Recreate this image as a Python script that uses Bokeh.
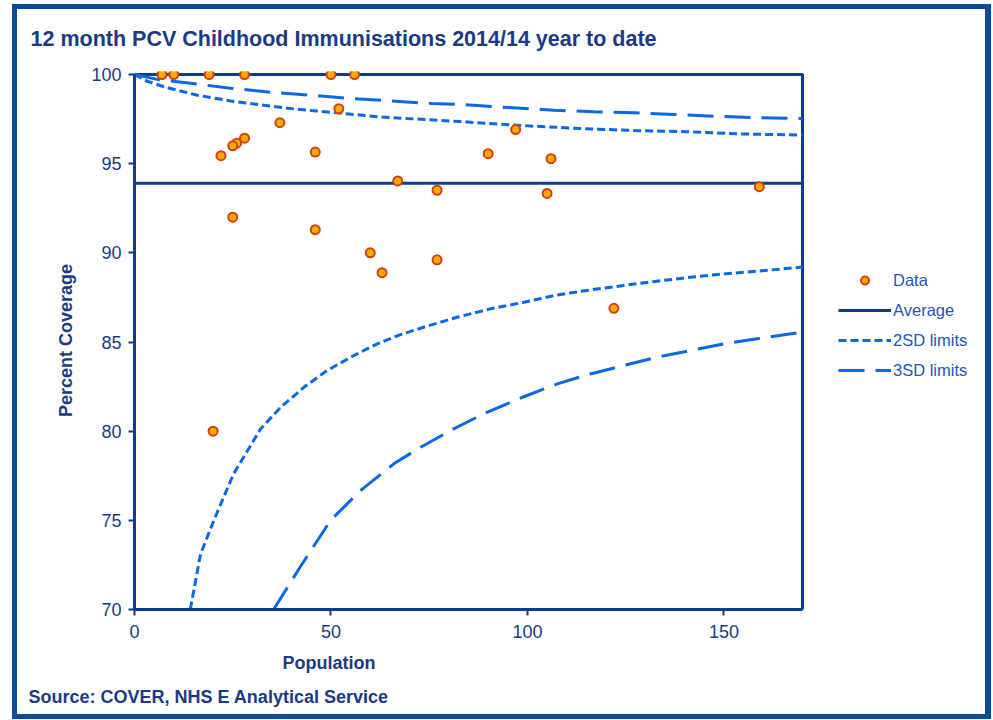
from bokeh.plotting import figure
from bokeh.models import Range1d, Legend, LegendItem, FixedTicker, Title
from bokeh.embed import file_html
from bokeh.resources import INLINE

# ---------------- data ----------------
title_text = "12 month PCV Childhood Immunisations 2014/14 year to date"
source_text = "Source: COVER, NHS E Analytical Service"
x_label = "Population"
y_label = "Percent Coverage"

x_ticks = [0, 50, 100, 150]
y_ticks = [70, 75, 80, 85, 90, 95, 100]
x_limits = [0, 170]
y_limits = [70, 100]

population = [7, 10, 19, 28, 50, 56, 52, 37, 28, 26, 25, 22, 46, 90, 97, 106,
              67, 77, 105, 25, 46, 60, 63, 77, 159, 122, 20]
coverage = [100, 100, 100, 100, 100, 100, 98.08, 97.3, 96.43, 96.15, 96.0, 95.45,
            95.65, 95.56, 96.91, 95.28, 94.03, 93.51, 93.33, 92.0, 91.3, 90.0,
            88.89, 89.61, 93.71, 86.89, 80.0]

average = 93.9

upper2_x = [0, 3.2, 7.5, 16.0, 24.4, 32.9, 41.4, 51.6, 61.8, 71.9, 83.8, 99.9,
            113.5, 127.1, 140.6, 154.2, 170]
upper2_y = [100, 99.63, 99.31, 98.84, 98.52, 98.28, 98.05, 97.85, 97.63, 97.5,
            97.35, 97.12, 96.97, 96.86, 96.79, 96.67, 96.6]

upper3_x = [0, 6.4, 14.3, 24.4, 34.6, 44.8, 55.0, 65.1, 75.7, 83.0, 96.5, 106.7,
            116.9, 127.1, 137.2, 147.4, 157.6, 170]
upper3_y = [100, 99.7, 99.51, 99.23, 99.01, 98.84, 98.65, 98.52, 98.37, 98.32,
            98.13, 98.0, 97.91, 97.85, 97.76, 97.66, 97.59, 97.53]

lower2_x = [14.2, 16.8, 20.2, 25.2, 32.1, 37.2, 43.1, 49.0, 55.8, 61.8, 67.0, 73.6,
            82.1, 90.6, 99.1, 107.6, 116.0, 124.5, 133.0, 141.5, 150.0, 158.4, 170]
lower2_y = [70.0, 73.1, 75.0, 77.6, 80.13, 81.34, 82.46, 83.4, 84.24, 84.9, 85.36,
            85.83, 86.39, 86.86, 87.23, 87.64, 87.92, 88.17, 88.41, 88.63, 88.82,
            88.97, 89.2]

lower3_x = [35.4, 42.2, 49.9, 57.5, 66.0, 72.8, 81.2, 89.7, 99.9, 107.6, 116.0,
            124.5, 133.0, 141.5, 150.0, 158.4, 170]
lower3_y = [70.0, 72.4, 75.0, 76.67, 78.17, 79.1, 80.13, 81.06, 82.0, 82.65, 83.21,
            83.68, 84.15, 84.52, 84.9, 85.18, 85.55]

# ---------------- style ----------------
NAVY = "#0c3c8c"
TEXT_NAVY = "#1a3b84"
LEGEND_BLUE = "#1f56b4"
DASH_BLUE = "#0a68e6"
BORDER_BLUE = "#0d4a9e"
FONT = "Liberation Sans"

W, H = 993, 720
FL, FT, FW, FH = 134, 74, 668, 535   # plot box left/top/width/height (px)
TOP_PAD = 3                          # px of frame above the 100 line

# the frame runs to the right edge so that the legend (drawn inside it) is not clipped
px_per_x = FW / (x_limits[1] - x_limits[0])
px_per_y = FH / (y_limits[1] - y_limits[0])
x_view = (x_limits[0], x_limits[0] + (W - FL) / px_per_x)
y_view = (y_limits[0], y_limits[1] + TOP_PAD / px_per_y)

p = figure(width=W, height=H,
           x_range=Range1d(*x_view), y_range=Range1d(*y_view),
           output_backend="svg", toolbar_location=None,
           min_border_left=FL, min_border_right=0,
           min_border_top=FT - TOP_PAD, min_border_bottom=H - FT - FH)

p.background_fill_alpha = 0
p.border_fill_alpha = 0
p.outline_line_color = None
p.xgrid.visible = False
p.ygrid.visible = False

# outer chart border drawn behind the transparent canvas
p.styles = {
    "background": "#ffffff",
    "box-shadow": (
        "inset 12px 0 0 0 #ffffff, inset -2px 0 0 0 #ffffff, "
        "inset 0 4px 0 0 #ffffff, inset 0 -1px 0 0 #ffffff, "
        f"inset 17px 0 0 0 {BORDER_BLUE}, inset -8px 0 0 0 {BORDER_BLUE}, "
        f"inset 0 9px 0 0 {BORDER_BLUE}, inset 0 -6px 0 0 {BORDER_BLUE}"
    ),
}

for ax, ticks, bounds in ((p.xaxis, x_ticks, x_limits), (p.yaxis, y_ticks, y_limits)):
    ax.ticker = FixedTicker(ticks=ticks)
    ax.bounds = tuple(bounds)
    ax.axis_line_color = NAVY
    ax.axis_line_width = 3
    ax.major_tick_line_color = NAVY
    ax.major_tick_line_width = 2
    ax.major_tick_out = 6
    ax.major_tick_in = 0
    ax.minor_tick_line_color = None
    ax.major_label_text_font = FONT
    ax.major_label_text_font_size = "18px"
    ax.major_label_text_color = TEXT_NAVY
p.yaxis.major_label_standoff = 7
p.xaxis.major_label_standoff = 9

p.yaxis.axis_label = y_label
p.yaxis.axis_label_text_font = FONT
p.yaxis.axis_label_text_font_size = "18px"
p.yaxis.axis_label_text_font_style = "bold"
p.yaxis.axis_label_text_color = TEXT_NAVY
p.yaxis.axis_label_standoff = 12

# plot-area box
p.quad(left=[x_limits[0]], right=[x_limits[1]], bottom=[y_limits[0]], top=[y_limits[1]],
       fill_color="white", line_color=NAVY, line_width=3, level="underlay")

# lines
r_avg = p.line(x_limits, [average, average], line_color=NAVY, line_width=3)
r_u2 = p.line(upper2_x, upper2_y, line_color=DASH_BLUE, line_width=3, line_dash="8 4")
r_l2 = p.line(lower2_x, lower2_y, line_color=DASH_BLUE, line_width=3, line_dash="8 4")
r_u3 = p.line(upper3_x, upper3_y, line_color=DASH_BLUE, line_width=3, line_dash="26 11")
r_l3 = p.line(lower3_x, lower3_y, line_color=DASH_BLUE, line_width=3, line_dash="26 11")

r_data = p.scatter(population, coverage, size=9, fill_color="#ffab00",
                   line_color="#d5400c", line_width=2)

legend = Legend(items=[
    LegendItem(label="Data", renderers=[r_data]),
    LegendItem(label="Average", renderers=[r_avg]),
    LegendItem(label="2SD limits", renderers=[r_u2]),
    LegendItem(label="3SD limits", renderers=[r_u3]),
], location=(838 - FL, (FT + FH) - 380))
legend.background_fill_alpha = 0
legend.border_line_alpha = 0
legend.padding = 0
legend.margin = 0
legend.spacing = 10
legend.glyph_width = 53
legend.glyph_height = 20
legend.label_height = 20
legend.label_standoff = 2
legend.label_text_font = FONT
legend.label_text_font_size = "16.5px"
legend.label_text_color = LEGEND_BLUE
legend.label_text_baseline = "middle"
p.add_layout(legend)

# title (above), axis title + source (below)
p.title.text = title_text
p.title.align = "left"
p.title.offset = 30 - FL
p.title.standoff = 41
p.title.text_font = FONT
p.title.text_font_size = "21.5px"
p.title.text_font_style = "bold"
p.title.text_color = TEXT_NAVY

p.add_layout(Title(text=x_label, align="left", offset=282 - FL,
                   standoff=21, text_font=FONT, text_font_size="18px",
                   text_font_style="bold", text_color=TEXT_NAVY), "below")
p.add_layout(Title(text=source_text, align="left", offset=28 - FL,
                   standoff=2, text_font=FONT, text_font_size="18px",
                   text_font_style="bold", text_color=TEXT_NAVY), "below")

open("out.html", "w").write(file_html(p, INLINE))
